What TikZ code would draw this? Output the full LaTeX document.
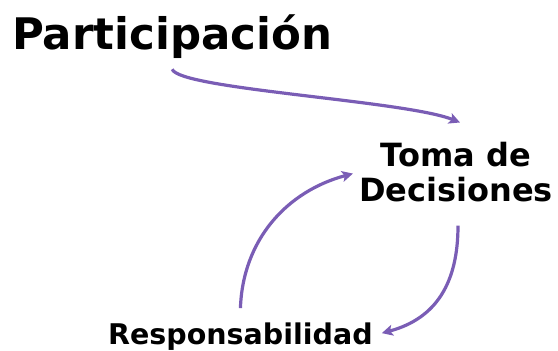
\documentclass[tikz,border=0pt]{standalone}
\usepackage{fontspec}
\setmainfont{DejaVu Sans}
\usepackage{tikz}
\usetikzlibrary{arrows.meta, positioning, calc}
\definecolor{lila}{RGB}{122,93,181}

\begin{document}
\begin{tikzpicture}[x=1pt, y=1pt,
	word/.style={inner sep=0pt, font=\bfseries},
	flecha/.style={lila, line width=3.2pt, -{Stealth[length=11pt, width=11pt, inset=2.5pt]}}]
	\useasboundingbox (0,0) rectangle (558,351);
	\node[word, anchor=base west, font=\bfseries\fontsize{43.5}{48}\selectfont] (part) at (12,301) {Participación};
	\node[word, anchor=base, align=center, font=\bfseries\fontsize{32}{35}\selectfont] (toma) at (456,149) {Toma de\\Decisiones};
	\node[word, anchor=base west, font=\bfseries\fontsize{28.5}{34}\selectfont] (resp) at (108,6) {Responsabilidad};
	\draw[flecha] ([yshift=-10pt]part.south) .. controls +(7,-20) and +(-55,22) .. ([xshift=4pt, yshift=20pt]toma.north);
	\draw[flecha] ([yshift=15pt]resp.north) to[out=88, in=195] ([xshift=-6pt, yshift=-1pt]toma.west);
	\draw[flecha] ([xshift=2pt, yshift=-23pt]toma.south) to[out=-90, in=15, looseness=1.1] ([xshift=9pt, yshift=4pt]resp.east);
\end{tikzpicture}
\end{document}
